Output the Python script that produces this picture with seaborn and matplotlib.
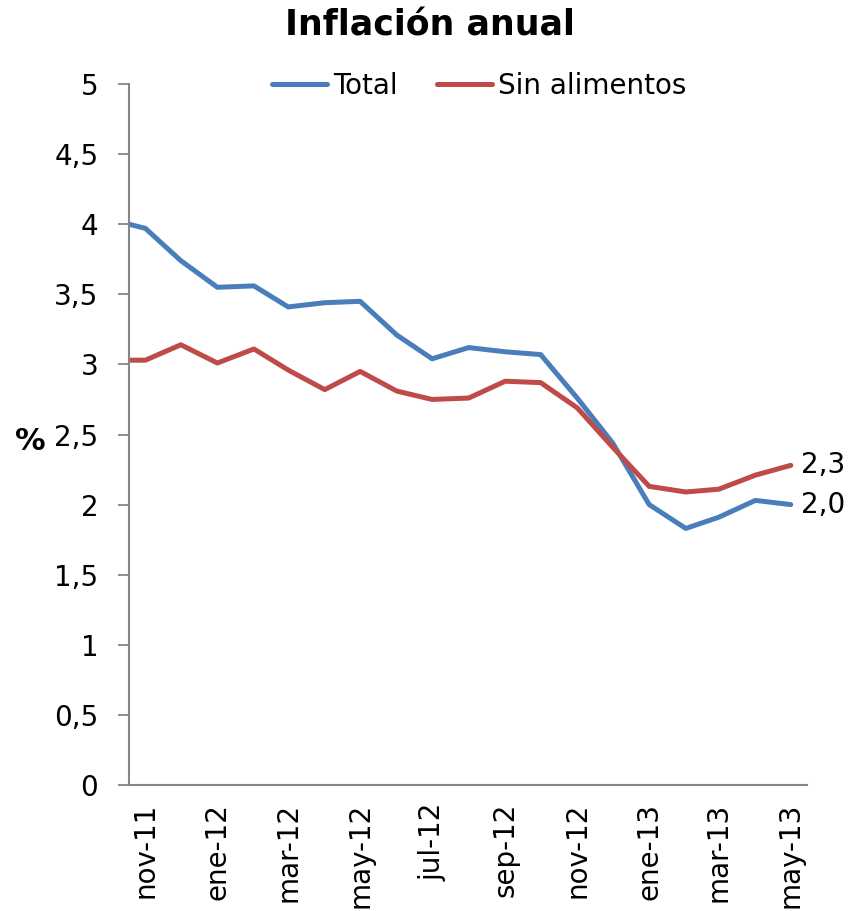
import pandas as pd
import seaborn as sns
import matplotlib.pyplot as plt
import matplotlib.dates as mdates
from matplotlib.ticker import FixedLocator, FuncFormatter

# Annual inflation (%), monthly data
fechas = ["2011-11-01", "2011-11-15", "2011-12-15", "2012-01-15", "2012-02-15",
          "2012-03-15", "2012-04-15", "2012-05-15", "2012-06-15", "2012-07-15",
          "2012-08-15", "2012-09-15", "2012-10-15", "2012-11-15", "2012-12-15",
          "2013-01-15", "2013-02-15", "2013-03-15", "2013-04-15", "2013-05-15"]
total = [4.00, 3.97, 3.74, 3.55, 3.56, 3.41, 3.44, 3.45, 3.21, 3.04,
         3.12, 3.09, 3.07, 2.76, 2.44, 2.00, 1.83, 1.91, 2.03, 2.00]
sin_alimentos = [3.03, 3.03, 3.14, 3.01, 3.11, 2.96, 2.82, 2.95, 2.81, 2.75,
                 2.76, 2.88, 2.87, 2.69, 2.41, 2.13, 2.09, 2.11, 2.21, 2.28]
etiquetas = ["nov-11", "ene-12", "mar-12", "may-12", "jul-12",
             "sep-12", "nov-12", "ene-13", "mar-13", "may-13"]
series = ["Total", "Sin alimentos"]
colores = {"Total": "#4A7EBB", "Sin alimentos": "#BE4B48"}

df = pd.DataFrame({
    "fecha": pd.to_datetime(fechas * 2),
    "valor": total + sin_alimentos,
    "serie": [series[0]] * len(total) + [series[1]] * len(sin_alimentos),
})

sns.set_style("white")
plt.rcParams["font.family"] = ["DejaVu Sans"]
plt.rcParams["text.color"] = "black"
plt.rcParams["axes.labelcolor"] = "black"

fig = plt.figure(figsize=(8.48, 9.11), dpi=100)
ax = fig.add_axes([0.152, 0.1383, 0.800, 0.7695])

sns.lineplot(data=df, x="fecha", y="valor", hue="serie", hue_order=series,
             palette=colores, linewidth=3.6, ax=ax)

# x axis: labels at mid-month, tick marks at month boundaries
fechas_dt = pd.to_datetime(fechas)
pos_etiq = fechas_dt[1::2]
pos_marcas = [d.replace(day=1) for d in pos_etiq]
ax.set_xticks(mdates.date2num(pos_etiq))
ax.set_xticklabels(etiquetas, rotation=90, fontsize=20)
ax.xaxis.set_minor_locator(FixedLocator(mdates.date2num(pos_marcas)))
ax.tick_params(axis="x", which="major", length=0, pad=13, labelcolor="black")
ax.tick_params(axis="x", which="minor", length=8, width=1.3, color="#868686", direction="out")
ax.set_xlim(mdates.date2num(pd.Timestamp("2011-11-01")),
            mdates.date2num(pd.Timestamp("2013-05-29")))

# y axis
ax.set_ylim(0, 5)
ax.set_yticks([0, 0.5, 1, 1.5, 2, 2.5, 3, 3.5, 4, 4.5, 5])
ax.yaxis.set_major_formatter(FuncFormatter(lambda v, p: f"{v:g}".replace(".", ",")))
ax.tick_params(axis="y", length=8, width=1.3, color="#868686", direction="out",
               labelsize=20, pad=14, left=True, labelcolor="black")

for s in ["top", "right"]:
    ax.spines[s].set_visible(False)
for s in ["left", "bottom"]:
    ax.spines[s].set_color("#868686")
    ax.spines[s].set_linewidth(1.5)

ax.set_xlabel("")
ax.set_ylabel("%", rotation=0, fontsize=22, fontweight="bold", va="center", ha="center")
ax.yaxis.set_label_coords(-0.146, 0.49)

# end-of-series labels
ax.annotate("2,3", (mdates.date2num(fechas_dt[-1]), sin_alimentos[-1]),
            xytext=(7, 0), textcoords="offset points", va="center", fontsize=20)
ax.annotate("2,0", (mdates.date2num(fechas_dt[-1]), total[-1]),
            xytext=(7, 0), textcoords="offset points", va="center", fontsize=20)

ax.legend(loc="center", bbox_to_anchor=(0.516, 0.997), ncol=2, frameon=False,
          fontsize=20, handlelength=2.0, handletextpad=0.2, columnspacing=1.4)

fig.text(0.507, 1 - 26 / 911, "Inflación anual", ha="center", va="center",
         fontsize=25, fontweight="bold")

fig.savefig("out.png", dpi=100)
